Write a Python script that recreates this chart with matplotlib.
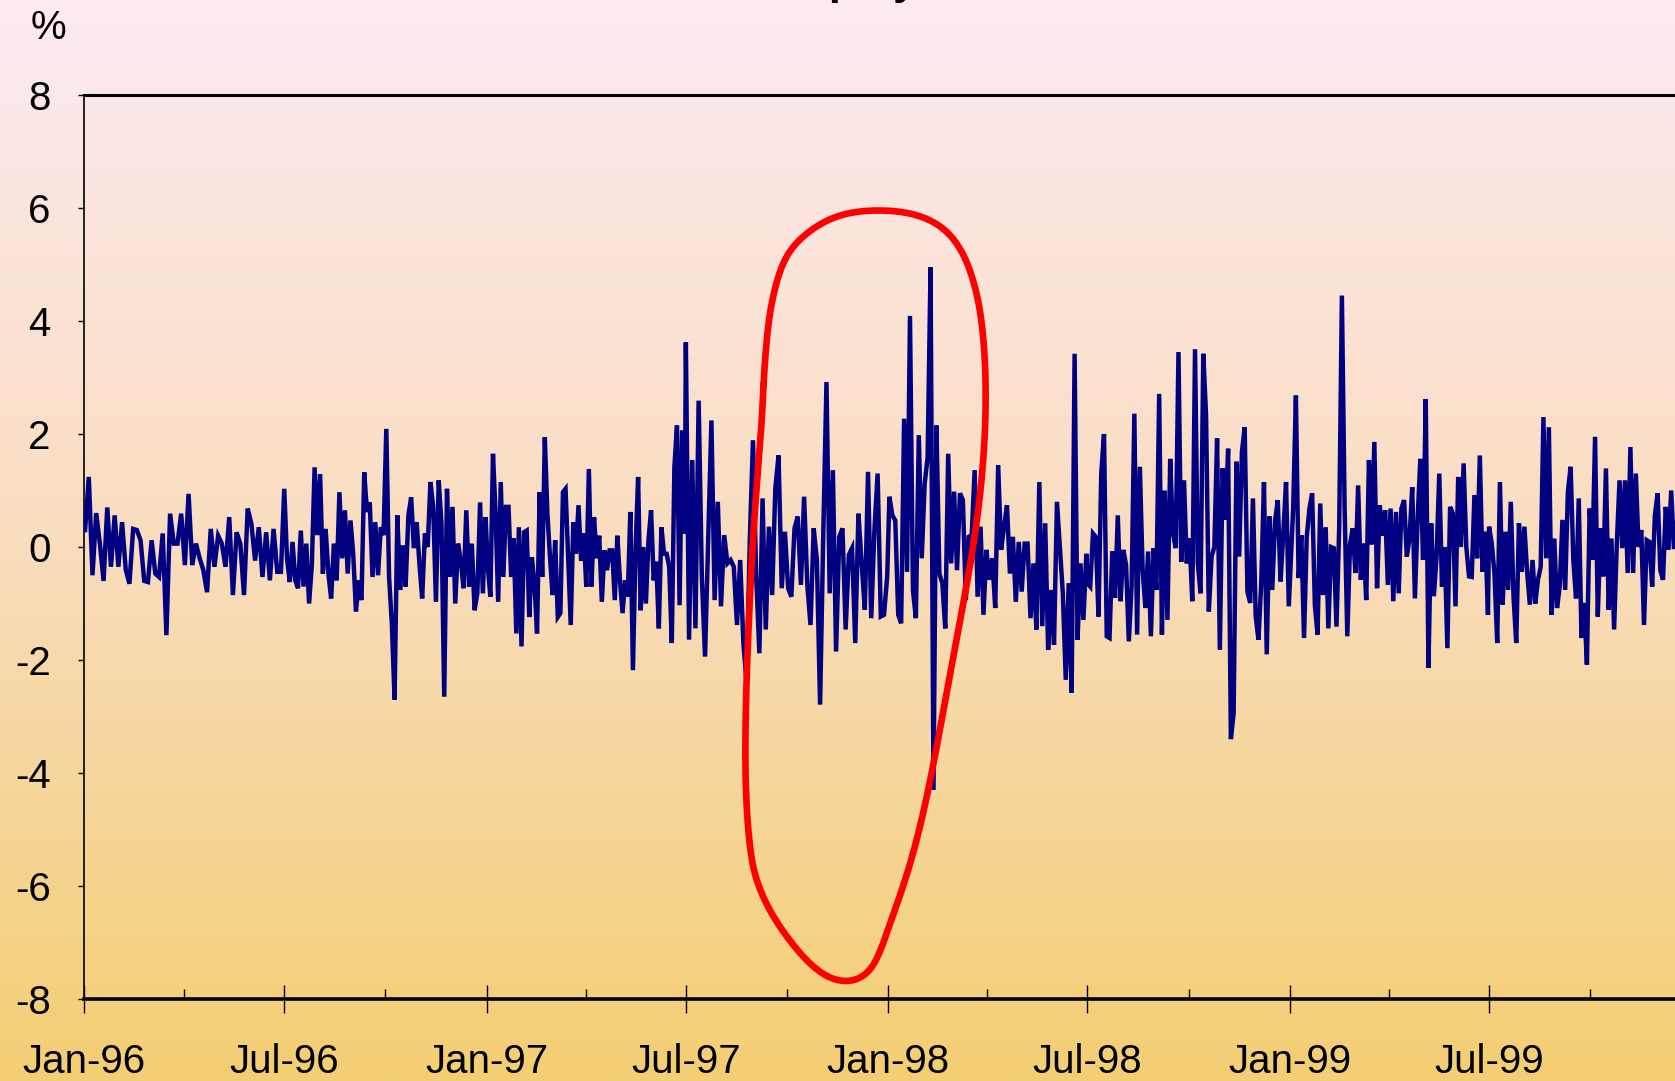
import numpy as np
import pandas as pd
import matplotlib
matplotlib.use("Agg")
from matplotlib import pyplot as plt
import matplotlib.dates as mdates

plt.rcParams['font.family'] = ['Liberation Sans', 'DejaVu Sans']
plt.rcParams['axes.unicode_minus'] = False

# daily % changes, one list per half-year
h1_96 = [0.3, 1.24, -0.5, 0.6, 0.06, -0.6, 0.7, -0.35, 0.56, -0.35, 0.44, -0.4, -0.65, 0.32, 0.3, 0.12,
         -0.6, -0.62, 0.12, -0.47, -0.53, 0.24, -1.56, 0.59, 0.06, 0.06, 0.59, -0.32, 0.94, -0.32, 0.06,
         -0.2, -0.41, -0.8, 0.32, -0.35, 0.2, 0.06, -0.35, 0.53, -0.85, 0.26, 0.06, -0.85, 0.68, 0.41,
         -0.24, 0.35, -0.53, 0.26, -0.59, 0.32, -0.44, -0.44]
h2_96 = [1.03, -0.2, -0.62, 0.09, -0.59, -0.73, 0.29, -0.7, 0.06, -1.0, -0.32, 1.41, 0.21, 1.29, -0.47,
         0.32, -0.47, -0.91, 0.06, -0.59, 0.97, -0.2, 0.65, -0.47, 0.47, -0.12, -1.14, -0.59, -0.94, 1.32,
         0.62, 0.79, -0.53, 0.44, -0.5, 0.35, 0.21, 2.09, -0.53, -1.35, -2.7, 0.56, -0.76, 0.03, -0.7,
         0.56, 0.88, -0.02, 0.44, -0.29, -0.91, 0.24, 0.0, 1.15, 0.71, -0.97, 1.18, 0.41, -2.65, 1.03,
         -0.53, 0.71, -1.0, 0.06, -0.24, -0.73, 0.65, -0.7, 0.06, -1.12, -0.82, 0.79, -0.82, 0.53]
h1_97 = [-0.35, -0.88, 1.65, 0.59, -0.97, 1.15, -0.53, 0.71, 0.71, -0.53, 0.15, -1.53, 0.35, -1.76, 0.26,
         0.29, -1.24, -0.18, -0.65, -1.53, 0.97, -0.53, 1.94, 0.59, -0.18, -0.85, 0.12, -1.24, -1.17, 0.97,
         1.03, -0.18, -1.38, 0.44, -0.12, 0.74, -0.24, 0.24, -0.7, 1.38, -0.7, 0.53, -0.2, 0.2, -0.97,
         -0.06, -0.41, -0.06, -0.06, -0.94, 0.2, -0.59, -1.17, -0.59, -0.88, 0.62, -2.18, -0.06, 1.24,
         -1.12, 0.0, -1.0, 0.12, 0.65, -0.59, -0.26, -1.44, 0.35, -0.12, -0.12, -0.35, -1.7, 1.41, 2.15,
         -1.03, 2.06, 0.24]
h2_97 = [3.62, -1.64, 1.54, -1.44, 2.59, -0.52, -1.94, 0.18, 2.24, -0.94, 0.8, -1.05, 0.21, -0.29, -0.23,
         -0.35, -1.38, -0.23, -1.7, -2.4, 0.11, 1.89, -0.5, -1.88, 0.86, -1.46, 0.36, -0.85, 1.04, 1.62,
         -0.73, 0.27, -0.73, -0.88, 0.33, 0.54, -0.67, 0.89, -0.67, -1.38, 0.33, -0.23, -2.79, 0.24, 2.92,
         -0.82, 1.36, -1.85, 0.18, 0.33, -1.46, -0.14, -0.02, -1.7, 0.59, -0.29, -1.11, 1.33, -1.26, 0.3,
         1.3, -1.23, -1.2, -0.52]
h1_98 = [0.89, 0.56, 0.47, -1.2, -1.35, 2.27, -0.44, 4.09, -0.76, -1.26, 1.98, -0.2, 1.12, 1.59, 4.95,
         -4.3, 2.15, -0.47, -0.64, -1.44, 1.65, -0.29, 0.98, -0.41, 0.95, 0.83, -0.94, 0.18, 0.21, 1.36,
         -0.88, 0.36, -1.2, -0.05, -0.58, -0.2, -1.08, 1.45, -0.05, 0.36, 0.74, -0.47, 0.18, -0.97, 0.09,
         -0.79, 0.06, 0.06, -1.26, -0.29, -1.46, 1.15, -1.4, 0.42, -1.82, -0.76, -1.73, 0.8, 0.0, -0.82,
         -2.35, -0.64, -2.58, 3.42, -1.64, -0.29, -1.29, -0.12]
h2_98 = [-0.64, -0.7, 0.24, 0.18, -1.23, 1.3, 2.0, -1.58, -1.61, -0.08, -0.9, 0.56, -0.96, -0.05, -0.32,
         -1.67, -0.7, 2.36, -1.55, 1.42, -0.4, -1.08, -0.08, -1.58, -0.02, -0.76, 2.71, -1.55, 1.0, -1.29,
         1.56, 0.24, -0.02, 3.45, -0.26, 1.18, -0.29, 0.15, -0.96, 3.5, -0.29, -0.82, 3.42, 2.33, -1.14,
         -0.17, 0.0, 1.92, -1.82, 1.39, 0.48, 1.74, -3.4, -2.94, 1.51, -0.17, 1.68, 2.12, -0.79, -0.99,
         0.86, -1.23, -1.64, -0.64, 1.15, -1.9, 0.54, -0.76, 0.45, 0.83, -0.61, 0.24, 1.15, -1.05]
h1_99 = [0.71, 2.68, -0.55, 0.21, -1.61, 0.18, 0.68, 0.95, -1.02, -1.55, 0.77, -0.85, 0.35, -1.44, 0.0,
         -0.02, -1.41, 0.35, 4.45, 0.71, -1.58, 0.04, 0.33, -0.46, 1.09, -0.58, 0.06, -0.94, 1.54, 0.04,
         1.86, -0.73, 0.74, 0.2, 0.65, -0.67, 0.68, -0.96, 0.62, -0.82, 0.68, 0.83, -0.17, 0.15, 1.06,
         -0.91, 0.51, 1.56, -0.23, 2.62, -2.14, 0.42, -0.87, -0.17, 1.3, -0.7, 0.0, -1.79, 0.71, 0.6,
         -1.05, 1.24, 0.0, 1.48, 0.0, -0.52, -0.53, 0.92, -0.2, 1.62, -0.44, 0.27, -1.2]
h2_99 = [0.36, 0.06, -0.47, -1.7, 1.15, -1.02, 0.27, -0.76, 0.8, -0.88, -1.7, 0.42, -0.44, 0.36, -0.44,
         -1.02, -0.23, -1.0, -0.58, -0.35, 2.3, -0.2, 2.12, -1.2, 0.15, -1.08, -0.7, 0.48, -0.76, 0.98,
         1.42, -0.23, -0.91, 0.86, -1.61, -0.99, -2.08, 0.68, -0.23, 1.95, -1.23, 0.33, -0.52, 1.39,
         -1.11, 0.15, -1.46, 0.06, 1.18, -0.02, 1.18, -0.46, 1.77, -0.46, 1.3, 0.0, 0.3, -1.38, 0.12,
         0.09, -0.7, 0.56, 0.95, -0.41, -0.58, 0.71, -0.05, 1.0, 0.0]

halves = [("1996-01-02", "1996-06-28", h1_96), ("1996-07-01", "1996-12-31", h2_96),
          ("1997-01-02", "1997-06-30", h1_97), ("1997-07-01", "1997-12-31", h2_97),
          ("1998-01-02", "1998-06-30", h1_98), ("1998-07-01", "1998-12-31", h2_98),
          ("1999-01-04", "1999-06-30", h1_99), ("1999-07-01", "1999-12-16", h2_99)]

dates = []
values = []
for start, end, vals in halves:
    dates.extend(pd.date_range(start, end, periods=len(vals)))
    values.extend(vals)

# hand-drawn loop around the crisis period: (decimal year, %)
loop_pts = [(1997.690, 2.78), (1997.702, 3.96), (1997.720, 4.60), (1997.745, 5.13), (1997.787, 5.49),
            (1997.849, 5.79), (1997.914, 5.93), (1997.986, 5.96), (1998.056, 5.91), (1998.123, 5.73),
            (1998.173, 5.38), (1998.205, 4.90), (1998.225, 4.37), (1998.237, 3.79), (1998.245, 2.78),
            (1998.237, 1.36), (1998.210, -0.15), (1998.170, -1.66), (1998.117, -3.74), (1998.077, -5.07),
            (1998.038, -6.02), (1998.006, -6.65), (1997.973, -7.31), (1997.939, -7.61), (1997.889, -7.70),
            (1997.832, -7.54), (1997.774, -7.13), (1997.715, -6.55), (1997.675, -5.95), (1997.657, -5.36),
            (1997.644, -3.93), (1997.652, -1.66), (1997.668, 0.60), (1997.686, 2.12)]


def closed_spline(pts, steps=30):
    # centripetal Catmull-Rom through pts (already in roughly isotropic units)
    p = np.asarray(pts, dtype=float)
    n = len(p)
    out = []
    for i in range(n):
        p0, p1, p2, p3 = p[i - 1], p[i], p[(i + 1) % n], p[(i + 2) % n]
        t0 = 0.0
        t1 = t0 + np.linalg.norm(p1 - p0) ** 0.5
        t2 = t1 + np.linalg.norm(p2 - p1) ** 0.5
        t3 = t2 + np.linalg.norm(p3 - p2) ** 0.5
        t = np.linspace(t1, t2, steps, endpoint=False)[:, None]
        a1 = (t1 - t) / (t1 - t0) * p0 + (t - t0) / (t1 - t0) * p1
        a2 = (t2 - t) / (t2 - t1) * p1 + (t - t1) / (t2 - t1) * p2
        a3 = (t3 - t) / (t3 - t2) * p2 + (t - t2) / (t3 - t2) * p3
        b1 = (t2 - t) / (t2 - t0) * a1 + (t - t0) / (t2 - t0) * a2
        b2 = (t3 - t) / (t3 - t1) * a2 + (t - t1) / (t3 - t1) * a3
        out.append((t2 - t) / (t2 - t1) * b1 + (t - t1) / (t2 - t1) * b2)
    curve = np.vstack(out)
    # soften the joins with a circular moving average
    k = 41
    kern = np.ones(k) / k
    padded = np.vstack([curve[-k:], curve, curve[:k]])
    sm = np.column_stack([np.convolve(padded[:, j], kern, mode="same") for j in range(2)])
    sm = sm[k:-k]
    return np.vstack([sm, sm[:1]])


W, H = 1675, 1081
fig = plt.figure(figsize=(W / 100, H / 100), dpi=100)

# background gradient over the whole figure
bg = fig.add_axes([0, 0, 1, 1], zorder=-10)
top = np.array([253, 234, 243]) / 255
mid = np.array([249, 221, 190]) / 255
bot = np.array([243, 206, 114]) / 255
s = np.linspace(0, 1, 400)[:, None]
grad = np.where(s < 0.5, top + (mid - top) * (s / 0.5), mid + (bot - mid) * ((s - 0.5) / 0.5))
bg.imshow(grad[:, None, :], aspect="auto", extent=[0, 1, 0, 1])
bg.axis("off")

ax = fig.add_axes([84 / W, 1 - 999 / H, 1 - 84 / W, (999 - 95) / H])
ax.patch.set_alpha(0)

ax.plot(dates, values, color="#000080", lw=3.2, solid_joinstyle="miter", zorder=3)

# spline in (years*7.1, %) so both directions have similar scale, then back to dates
scaled = [(x * 7.1, y) for x, y in loop_pts]
curve = closed_spline(scaled)
loop_x = mdates.date2num(pd.Timestamp("1996-01-01")) + (curve[:, 0] / 7.1 - 1996) * 365.25
ax.plot(loop_x, curve[:, 1], color="#FF0000", lw=4.8, zorder=4, solid_capstyle="round")

ax.set_ylim(-8, 8)
ax.set_yticks(np.arange(-8, 9, 2))
ax.set_xlim(pd.Timestamp("1996-01-01"), pd.Timestamp("1999-12-17"))
ax.xaxis.set_major_locator(mdates.MonthLocator(bymonth=[1, 7]))
ax.xaxis.set_major_formatter(mdates.DateFormatter("%b-%y"))
ax.xaxis.set_minor_locator(mdates.MonthLocator(bymonth=[4, 10]))

ax.tick_params(axis="y", direction="out", length=4, width=1, labelsize=29, pad=20)
ax.tick_params(axis="x", which="major", direction="inout", length=20, width=1, labelsize=29, pad=22)
ax.tick_params(axis="x", which="minor", direction="in", length=7, width=1)

ax.spines["right"].set_visible(False)
ax.spines["left"].set_linewidth(1.2)
ax.spines["top"].set_linewidth(2.2)
ax.spines["bottom"].set_linewidth(2.6)

fig.text(48 / W, 1 - 28 / H, "%", fontsize=29, ha="center", va="center")
fig.text(847 / W, 1 + 6 / H, "Korean Equity Market", fontsize=31, fontweight="bold",
         ha="center", va="baseline")

fig.savefig("out.png", dpi=100)
